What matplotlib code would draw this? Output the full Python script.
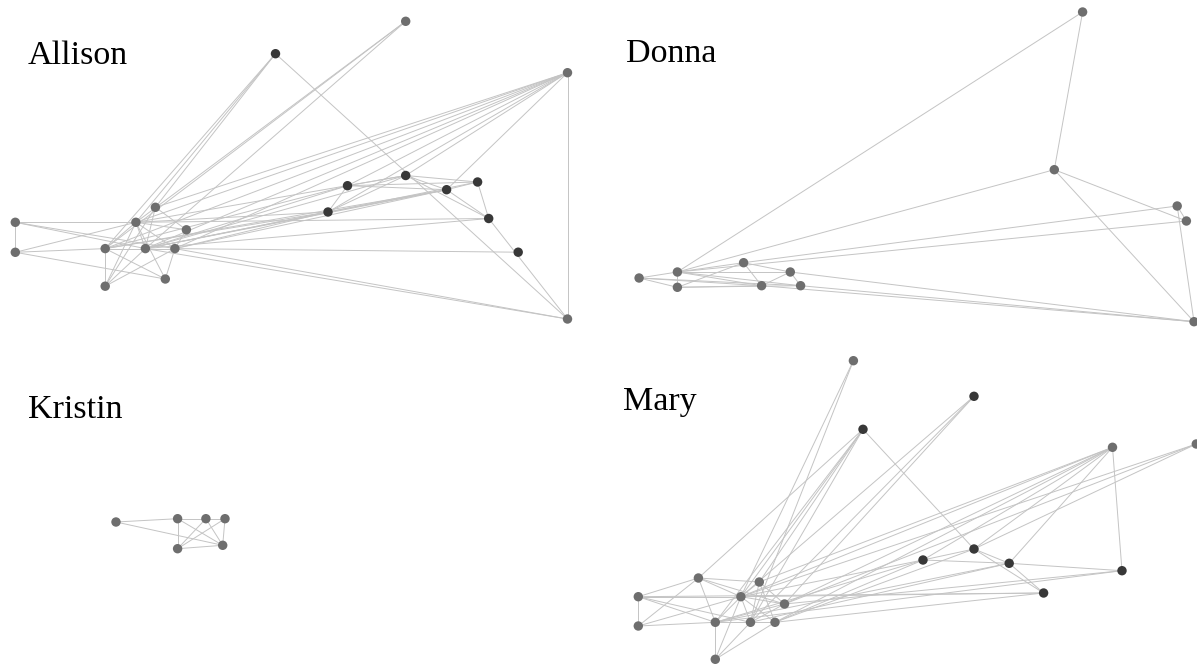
import matplotlib
matplotlib.use("Agg")
import matplotlib.pyplot as plt

# ---- layout coordinates of each ego network (panel-local units) ----
allison_x = [405.7, 275.5, 567.5, 405.7, 347.5, 477.6, 446.6, 328.0, 488.7, 518.2, 567.5,
             155.4, 135.9, 15.3, 15.3, 186.4, 105.2, 145.4, 174.9, 165.3, 105.2]
allison_y = [21.3, 53.7, 72.7, 175.5, 185.7, 182.0, 189.7, 212.0, 218.5, 252.2, 319.0,
             207.3, 222.3, 222.3, 252.3, 229.8, 248.6, 248.6, 248.6, 279.0, 286.2]
allison_group = [0, 1, 0, 1, 1, 1, 1, 1, 1, 1, 0,
                 0, 0, 0, 0, 0, 0, 0, 0, 0, 0]
allison_edges = [
    (13, 14), (13, 12), (13, 17), (13, 18), (14, 16), (14, 12), (14, 19),
    (16, 20), (16, 12), (16, 17), (16, 18), (16, 19), (20, 12), (20, 11),
    (20, 17), (20, 18), (19, 12), (19, 18), (12, 17), (12, 18), (12, 15),
    (11, 17), (11, 15), (17, 18), (15, 18),
    (0, 12), (0, 17), (0, 16), (1, 11), (1, 12), (1, 16), (1, 10),
    (2, 12), (2, 16), (2, 17), (2, 18), (2, 4), (2, 3), (2, 6), (2, 7),
    (2, 11), (2, 10), (10, 18), (10, 17), (10, 8),
    (3, 4), (3, 5), (3, 6), (3, 8), (4, 6), (4, 5), (4, 7), (5, 6), (5, 8),
    (6, 8), (6, 7), (7, 3),
    (7, 16), (7, 17), (7, 18), (7, 12), (6, 16), (6, 17), (6, 18), (4, 16),
    (4, 17), (3, 17), (3, 12), (8, 12), (8, 17), (9, 18), (5, 17),
]

donna_x = [485.6, 457.3, 580.2, 589.4, 597.0, 42.1, 80.4, 80.4, 146.6, 193.3, 164.6, 203.6]
donna_y = [12.0, 169.7, 206.0, 221.0, 321.7, 278.0, 272.0, 287.3, 262.7, 272.0, 285.7, 285.7]
donna_group = [0] * 12
donna_edges = [
    (0, 1), (0, 6), (1, 6), (1, 3), (1, 4), (2, 3), (2, 4), (2, 8), (3, 6),
    (4, 9), (4, 11), (4, 10), (5, 6), (5, 7), (5, 10), (5, 11), (6, 7),
    (6, 8), (6, 9), (6, 10), (6, 11), (7, 8), (7, 10), (7, 11), (8, 9),
    (8, 10), (9, 10), (9, 11),
]

kristin_x = [116.0, 177.6, 205.9, 225.0, 177.6, 222.7]
kristin_y = [192.0, 188.7, 188.7, 188.7, 218.7, 215.3]
kristin_group = [0] * 6
kristin_edges = [
    (0, 1), (0, 5), (1, 2), (2, 3), (1, 4), (1, 5), (2, 4), (2, 5),
    (3, 4), (3, 5), (4, 5),
]

mary_x = [256.4, 377.0, 266.0, 515.5, 599.3, 377.0, 326.0, 412.2, 525.0, 446.6,
          101.4, 162.3, 41.3, 143.9, 187.5, 41.3, 118.3, 153.5, 178.0, 118.3]
mary_y = [30.7, 66.3, 99.3, 117.3, 114.0, 219.0, 230.0, 233.3, 240.7, 263.0,
          248.0, 252.0, 266.7, 266.7, 274.0, 296.0, 292.3, 292.3, 292.3, 329.3]
mary_group = [0, 1, 1, 0, 0, 1, 1, 1, 1, 1,
              0, 0, 0, 0, 0, 0, 0, 0, 0, 0]
mary_edges = [
    (12, 15), (12, 10), (12, 13), (12, 16), (12, 17), (15, 10), (15, 16),
    (15, 13), (10, 11), (10, 13), (10, 16), (10, 14), (11, 13), (11, 14),
    (11, 17), (13, 14), (13, 16), (13, 19), (13, 17), (13, 18), (16, 17),
    (16, 19), (16, 14), (17, 19), (18, 19), (17, 18), (14, 17), (11, 18),
    (0, 17), (0, 13), (1, 13), (1, 17), (1, 14), (2, 10), (2, 11), (2, 13),
    (2, 17), (2, 16), (2, 5), (3, 6), (3, 5), (3, 7), (3, 8), (3, 13),
    (3, 14), (3, 11), (3, 18), (4, 13), (4, 14), (4, 5),
    (5, 6), (5, 7), (5, 9), (6, 7), (7, 8), (7, 9), (8, 16), (8, 14),
    (9, 13), (9, 18), (7, 16), (7, 17), (6, 16), (6, 18), (6, 13), (5, 18),
    (12, 9),
]

names = ["Allison", "Donna", "Kristin", "Mary"]

# ---- drawing ----
FIG_W, FIG_H = 1197, 664
PANEL_W, PANEL_H = 600, 334
EDGE_COLOR = "#c4c4c4"
NODE_COLORS = {0: "#6e6e6e", 1: "#383838"}

fig = plt.figure(figsize=(FIG_W / 100, FIG_H / 100), dpi=100)
fig.patch.set_facecolor("white")

panels = [
    (names[0], allison_x, allison_y, allison_group, allison_edges, (0, 0), (28, 64)),
    (names[1], donna_x, donna_y, donna_group, donna_edges, (597, 0), (29, 62)),
    (names[2], kristin_x, kristin_y, kristin_group, kristin_edges, (0, 330), (28, 88)),
    (names[3], mary_x, mary_y, mary_group, mary_edges, (597, 330), (26, 80)),
]

for name, xs, ys, groups, edges, (ox, oy), (tx, ty) in panels:
    ax = fig.add_axes([ox / FIG_W, 1 - (oy + PANEL_H) / FIG_H,
                       PANEL_W / FIG_W, PANEL_H / FIG_H])
    ax.set_xlim(0, PANEL_W)
    ax.set_ylim(PANEL_H, 0)
    ax.axis("off")
    ax.patch.set_alpha(0)

    for a, b in edges:
        ax.plot([xs[a], xs[b]], [ys[a], ys[b]], color=EDGE_COLOR,
                lw=0.7, zorder=1, solid_capstyle="round", clip_on=False)

    ax.scatter(xs, ys, s=46, c=[NODE_COLORS[g] for g in groups],
               linewidths=0, zorder=3, clip_on=False)

    ax.text(tx, ty, name, fontsize=24.5, family="Liberation Serif",
            color="#000000", ha="left", va="baseline")

fig.savefig("out.png", dpi=100, facecolor="white")
